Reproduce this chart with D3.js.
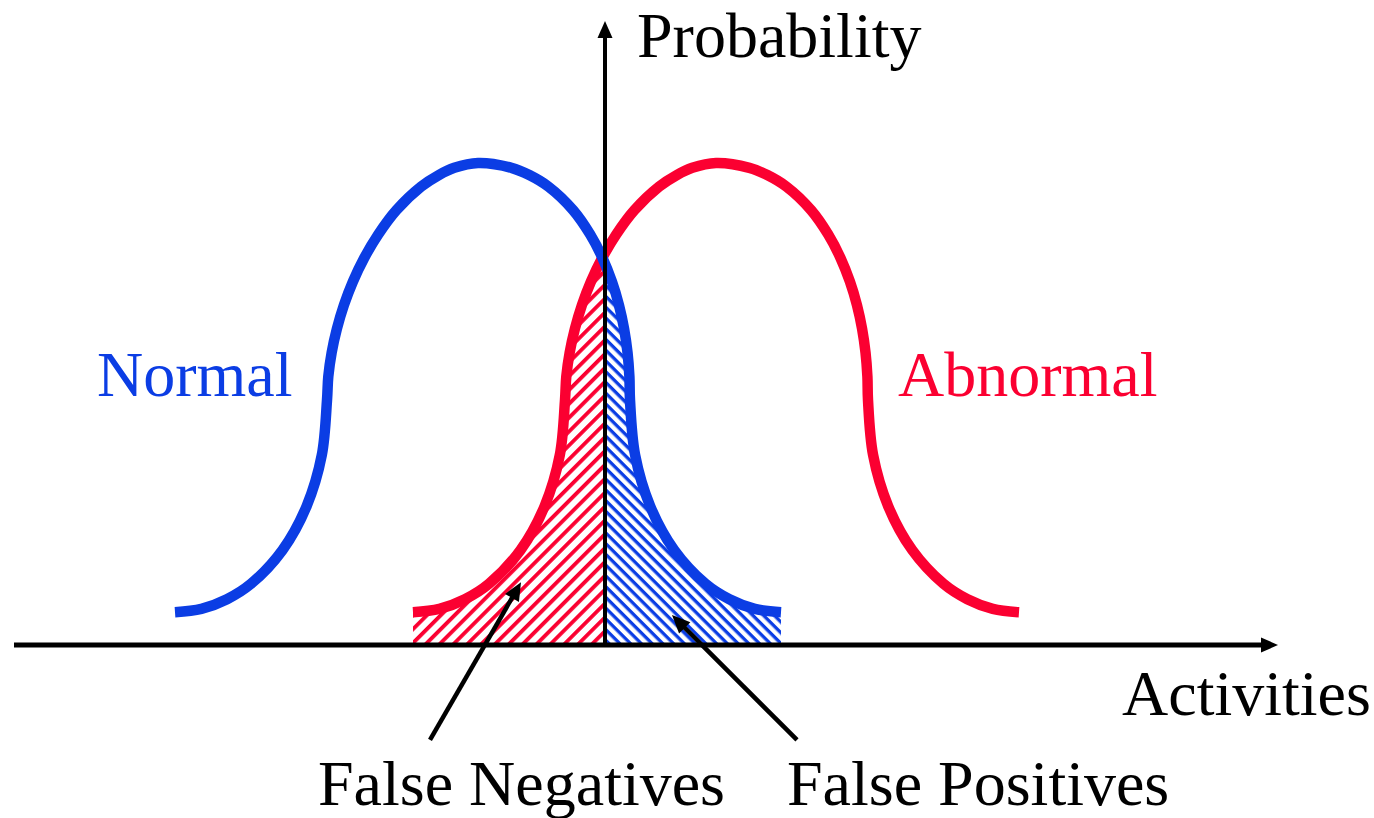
<!DOCTYPE html>
<html>
<head>
<meta charset="utf-8">
<script src="https://cdn.jsdelivr.net/npm/d3@7"></script>
<style>
  html, body { margin: 0; padding: 0; background: #fff; }
  svg { display: block; }
  text { font-family: "Liberation Serif", "Times New Roman", serif; font-size: 64px; }
</style>
</head>
<body>
<div id="chart"></div>
<script>
// Outline of the two bell curves
// x = activity (threshold at 0), y = probability (peak = 1)
const curveY = [0.068, 0.075, 0.095, 0.127, 0.197, 0.288, 0.394, 0.508, 0.557, 0.607,
                0.656, 0.705, 0.754, 0.803, 0.852, 0.902, 0.951, 0.975, 0.990, 1.000,
                0.990, 0.975, 0.951, 0.902, 0.852, 0.803, 0.754, 0.705, 0.656, 0.607,
                0.557, 0.508, 0.394, 0.288, 0.197, 0.127, 0.095, 0.075, 0.068];
const normalX = [-4.300, -4.036, -3.780, -3.540, -3.225, -2.984, -2.832, -2.780, -2.767, -2.733,
                 -2.681, -2.611, -2.521, -2.408, -2.267, -2.087, -1.839, -1.662, -1.507, -1.270,
                 -0.936, -0.757, -0.566, -0.318, -0.149, -0.025, 0.069, 0.140, 0.191, 0.225,
                  0.244, 0.250, 0.301, 0.452, 0.692, 1.005, 1.244, 1.498, 1.760];
const abnormalX = [-1.920, -1.656, -1.400, -1.160, -0.845, -0.604, -0.452, -0.400, -0.387, -0.353,
                   -0.301, -0.231, -0.141, -0.028, 0.113, 0.293, 0.541, 0.718, 0.873, 1.110,
                    1.444, 1.623, 1.814, 2.062, 2.231, 2.355, 2.449, 2.520, 2.571, 2.605,
                    2.624, 2.630, 2.681, 2.832, 3.072, 3.385, 3.624, 3.878, 4.140];
const threshold = 0;

const labels = ["Probability", "Activities", "Normal", "Abnormal", "False Negatives", "False Positives"];
// annotation arrows: [tailX, tailY, tipX, tipY] in data units
const fnArrow = [-1.75, -0.197, -0.84, 0.130];
const fpArrow = [1.92, -0.197, 0.67, 0.062];

const blue = "#0b3de4";
const red = "#fb0031";

const width = 1374, height = 818;

const x = d3.scaleLinear().domain([-6, 6]).range([5, 1205]);
const y = d3.scaleLinear().domain([0, 1]).range([645, 163]);

const normal = normalX.map((v, i) => [v, curveY[i]]);
const abnormal = abnormalX.map((v, i) => [v, curveY[i]]);

const svg = d3.select("#chart")
    .append("svg")
    .attr("width", width)
    .attr("height", height);

const defs = svg.append("defs");

// hatch patterns
function hatch(id, color, size, thick, angle) {
    const p = defs.append("pattern")
        .attr("id", id)
        .attr("patternUnits", "userSpaceOnUse")
        .attr("width", size)
        .attr("height", size)
        .attr("patternTransform", `rotate(${angle})`);
    p.append("rect")
        .attr("width", size)
        .attr("height", thick)
        .attr("fill", color);
}
hatch("hatchRed", red, 9.8, 3.8, -45);
hatch("hatchBlue", blue, 7.6, 3.3, 45);

defs.append("clipPath").attr("id", "leftOfT")
    .append("rect")
    .attr("x", 0).attr("y", 0)
    .attr("width", x(threshold)).attr("height", height);
defs.append("clipPath").attr("id", "rightOfT")
    .append("rect")
    .attr("x", x(threshold)).attr("y", 0)
    .attr("width", width - x(threshold)).attr("height", height);

const area = d3.area()
    .x(d => x(d[0]))
    .y0(y(0))
    .y1(d => y(d[1]))
    .curve(d3.curveCatmullRom.alpha(0.5));

const line = d3.line()
    .x(d => x(d[0]))
    .y(d => y(d[1]))
    .curve(d3.curveCatmullRom.alpha(0.5));

// false negatives: abnormal tail left of threshold
svg.append("path")
    .datum(abnormal.slice(0, 16))
    .attr("d", area)
    .attr("fill", "url(#hatchRed)")
    .attr("clip-path", "url(#leftOfT)");

// false positives: normal tail right of threshold
svg.append("path")
    .datum(normal.slice(24))
    .attr("d", area)
    .attr("fill", "url(#hatchBlue)")
    .attr("clip-path", "url(#rightOfT)");

svg.append("path")
    .datum(abnormal)
    .attr("d", line)
    .attr("fill", "none")
    .attr("stroke", red)
    .attr("stroke-width", 10.5);

svg.append("path")
    .datum(normal)
    .attr("d", line)
    .attr("fill", "none")
    .attr("stroke", blue)
    .attr("stroke-width", 10.5);

// arrow helper (line + filled head)
function arrow(x1, y1, x2, y2, len, half, sw) {
    const a = Math.atan2(y2 - y1, x2 - x1);
    const bx = x2 - len * Math.cos(a), by = y2 - len * Math.sin(a);
    svg.append("line")
        .attr("x1", x1).attr("y1", y1)
        .attr("x2", bx + 2 * Math.cos(a)).attr("y2", by + 2 * Math.sin(a))
        .attr("stroke", "#000")
        .attr("stroke-width", sw);
    svg.append("path")
        .attr("d", `M${x2},${y2}L${bx - half * Math.sin(a)},${by + half * Math.cos(a)}L${bx + half * Math.sin(a)},${by - half * Math.cos(a)}Z`)
        .attr("fill", "#000");
}

// axes
arrow(14, y(0), 1278, y(0), 17, 7.5, 5);
arrow(x(threshold), y(0), x(threshold), 21, 17, 7.5, 4);

// annotation arrows
arrow(x(fnArrow[0]), y(fnArrow[1]), x(fnArrow[2]), y(fnArrow[3]), 18, 8, 4.5);
arrow(x(fpArrow[0]), y(fpArrow[1]), x(fpArrow[2]), y(fpArrow[3]), 18, 8, 4.5);

// text
svg.append("text").attr("x", 637).attr("y", 57).attr("fill", "#000").text(labels[0]);
svg.append("text").attr("x", 1122).attr("y", 715).attr("fill", "#000").text(labels[1]);
svg.append("text").attr("x", 97).attr("y", 396).attr("fill", blue).text(labels[2]);
svg.append("text").attr("x", 898).attr("y", 396).attr("fill", red).text(labels[3]);
svg.append("text").attr("x", 318).attr("y", 805).attr("fill", "#000").text(labels[4]);
svg.append("text").attr("x", 787).attr("y", 805).attr("fill", "#000").text(labels[5]);
</script>
</body>
</html>
